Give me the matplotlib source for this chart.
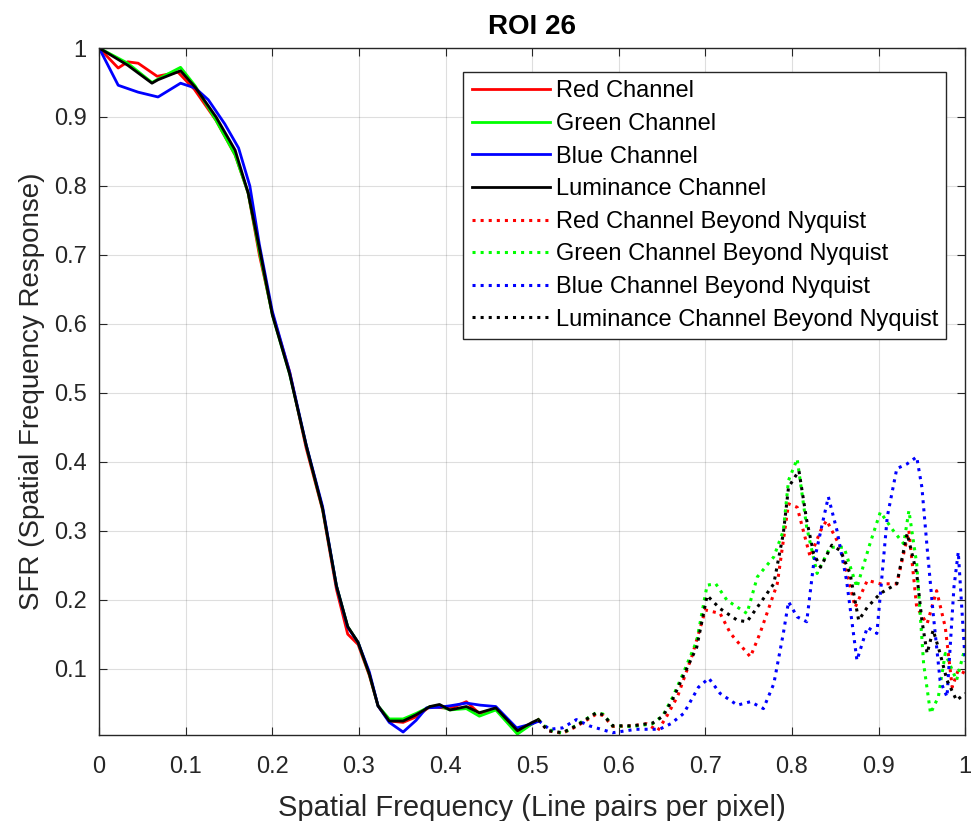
import matplotlib as mpl
mpl.use('Agg')
import matplotlib.pyplot as plt

mpl.rcParams['font.family'] = ['Liberation Sans', 'DejaVu Sans']

# ---- solid curves (up to Nyquist) ----
x_red = [0, 0.022, 0.033, 0.045, 0.067, 0.091, 0.11, 0.135, 0.157, 0.172, 0.185, 0.2, 0.22, 0.239, 0.258,
         0.274, 0.287, 0.299, 0.312, 0.322, 0.335, 0.351, 0.366, 0.382, 0.405, 0.424, 0.439, 0.458, 0.483, 0.5, 0.507]
y_red = [1.0, 0.971, 0.98, 0.978, 0.959, 0.965, 0.94, 0.895, 0.845, 0.79, 0.70, 0.615, 0.53, 0.42, 0.33,
         0.215, 0.15, 0.135, 0.09, 0.046, 0.024, 0.022, 0.03, 0.045, 0.042, 0.052, 0.035, 0.042, 0.008, 0.02, 0.026]

x_lum = [0, 0.033, 0.061, 0.068, 0.094, 0.111, 0.135, 0.157, 0.172, 0.185, 0.2, 0.22, 0.239, 0.258, 0.274,
         0.287, 0.299, 0.312, 0.322, 0.335, 0.351, 0.366, 0.382, 0.393, 0.405, 0.424, 0.439, 0.458, 0.483, 0.5, 0.507]
y_lum = [1.0, 0.975, 0.949, 0.954, 0.967, 0.943, 0.9, 0.852, 0.79, 0.71, 0.613, 0.527, 0.424, 0.332, 0.22,
         0.161, 0.138, 0.092, 0.046, 0.024, 0.024, 0.033, 0.045, 0.048, 0.040, 0.045, 0.036, 0.043, 0.010, 0.022, 0.026]

x_green = x_lum
y_green = [1.0, 0.978, 0.95, 0.955, 0.972, 0.945, 0.895, 0.845, 0.79, 0.705, 0.613, 0.527, 0.424, 0.332, 0.22,
           0.161, 0.138, 0.092, 0.046, 0.027, 0.027, 0.035, 0.045, 0.046, 0.040, 0.042, 0.031, 0.040, 0.005, 0.02, 0.026]

x_blue = [0, 0.022, 0.045, 0.068, 0.094, 0.111, 0.126, 0.145, 0.161, 0.174, 0.185, 0.2, 0.22, 0.239, 0.258,
          0.274, 0.287, 0.299, 0.312, 0.322, 0.335, 0.351, 0.366, 0.378, 0.393, 0.405, 0.424, 0.44, 0.458, 0.482, 0.5, 0.508]
y_blue = [1.0, 0.946, 0.936, 0.929, 0.949, 0.942, 0.925, 0.89, 0.855, 0.80, 0.715, 0.618, 0.53, 0.425, 0.335,
          0.22, 0.16, 0.138, 0.095, 0.046, 0.022, 0.008, 0.025, 0.043, 0.044, 0.046, 0.05, 0.047, 0.045, 0.014, 0.02, 0.024]

# ---- dotted curves (beyond Nyquist) ----
xn_red = [0.507, 0.518, 0.535, 0.551, 0.574, 0.582, 0.593, 0.616, 0.632, 0.645, 0.655, 0.668, 0.685, 0.7, 0.717,
          0.729, 0.752, 0.763, 0.783, 0.796, 0.806, 0.821, 0.833, 0.84, 0.856, 0.873, 0.887, 0.902, 0.921, 0.935,
          0.944, 0.956, 0.967, 0.977, 0.985, 0.992, 1.0]
yn_red = [0.026, 0.01, 0.006, 0.016, 0.034, 0.032, 0.016, 0.017, 0.02, 0.01, 0.03, 0.06, 0.12, 0.185, 0.18,
          0.151, 0.117, 0.151, 0.223, 0.339, 0.334, 0.262, 0.30, 0.315, 0.276, 0.189, 0.228, 0.223, 0.223, 0.30,
          0.189, 0.165, 0.213, 0.16, 0.073, 0.098, 0.093]

xn_green = [0.507, 0.518, 0.535, 0.551, 0.574, 0.582, 0.593, 0.616, 0.639, 0.651, 0.662, 0.674, 0.69, 0.702, 0.712,
            0.725, 0.748, 0.76, 0.779, 0.79, 0.796, 0.806, 0.817, 0.829, 0.844, 0.86, 0.875, 0.89, 0.902, 0.917,
            0.929, 0.935, 0.944, 0.952, 0.96, 0.969, 0.977, 0.99, 1.0]
yn_green = [0.026, 0.012, 0.006, 0.018, 0.036, 0.034, 0.017, 0.016, 0.02, 0.032, 0.058, 0.092, 0.14, 0.221, 0.223,
            0.199, 0.18, 0.233, 0.262, 0.3, 0.373, 0.404, 0.305, 0.238, 0.276, 0.276, 0.218, 0.281, 0.327, 0.3,
            0.281, 0.329, 0.252, 0.107, 0.035, 0.059, 0.122, 0.083, 0.131]

xn_blue = [0.508, 0.52, 0.535, 0.551, 0.566, 0.593, 0.62, 0.647, 0.66, 0.675, 0.692, 0.704, 0.717, 0.737, 0.752,
           0.767, 0.779, 0.79, 0.796, 0.806, 0.817, 0.825, 0.835, 0.842, 0.852, 0.863, 0.875, 0.887, 0.898, 0.91,
           0.921, 0.933, 0.944, 0.95, 0.956, 0.963, 0.971, 0.979, 0.987, 0.992, 1.0]
yn_blue = [0.024, 0.012, 0.014, 0.026, 0.017, 0.007, 0.012, 0.012, 0.02, 0.035, 0.073, 0.086, 0.064, 0.047, 0.052,
           0.042, 0.078, 0.151, 0.197, 0.175, 0.168, 0.252, 0.31, 0.349, 0.30, 0.228, 0.112, 0.16, 0.151, 0.32,
           0.39, 0.397, 0.407, 0.363, 0.276, 0.18, 0.083, 0.059, 0.218, 0.269, 0.11]

xn_lum = [0.507, 0.518, 0.535, 0.551, 0.574, 0.582, 0.593, 0.616, 0.639, 0.651, 0.662, 0.674, 0.69, 0.702, 0.717,
          0.737, 0.748, 0.76, 0.779, 0.79, 0.796, 0.808, 0.817, 0.825, 0.833, 0.846, 0.856, 0.867, 0.877, 0.887,
          0.902, 0.921, 0.933, 0.944, 0.95, 0.956, 0.963, 0.971, 0.979, 0.99, 1.0]
yn_lum = [0.026, 0.01, 0.007, 0.017, 0.036, 0.033, 0.017, 0.017, 0.021, 0.031, 0.055, 0.088, 0.131, 0.206, 0.187,
          0.17, 0.168, 0.189, 0.223, 0.296, 0.363, 0.387, 0.315, 0.267, 0.247, 0.279, 0.271, 0.238, 0.17, 0.189,
          0.209, 0.223, 0.296, 0.238, 0.17, 0.122, 0.156, 0.122, 0.083, 0.054, 0.064]

labels = ['Red Channel', 'Green Channel', 'Blue Channel', 'Luminance Channel',
          'Red Channel Beyond Nyquist', 'Green Channel Beyond Nyquist',
          'Blue Channel Beyond Nyquist', 'Luminance Channel Beyond Nyquist']
colors = ['#ff0000', '#00ff00', '#0000ff', '#000000']

fig = plt.figure(figsize=(9.72, 8.21), dpi=100)
ax = fig.add_axes([0.102, 0.105, 0.891, 0.8365])

solid = [(x_red, y_red), (x_green, y_green), (x_blue, y_blue), (x_lum, y_lum)]
dotted = [(xn_red, yn_red), (xn_green, yn_green), (xn_blue, yn_blue), (xn_lum, yn_lum)]
for (x, y), c, lab in zip(solid, colors, labels[:4]):
    ax.plot(x, y, '-', color=c, lw=2.0, label=lab)
for (x, y), c, lab in zip(dotted, colors, labels[4:]):
    ax.plot(x, y, ':', color=c, lw=2.2, label=lab)

ax.set_xlim(0, 1)
ax.set_ylim(0.004, 1)
ax.set_xticks([i / 10 for i in range(11)])
ax.set_xticklabels(['0', '0.1', '0.2', '0.3', '0.4', '0.5', '0.6', '0.7', '0.8', '0.9', '1'])
ax.set_yticks([i / 10 for i in range(1, 11)])
ax.set_yticklabels(['0.1', '0.2', '0.3', '0.4', '0.5', '0.6', '0.7', '0.8', '0.9', '1'])
ax.grid(True, color='#262626', alpha=0.15, lw=0.8)
ax.tick_params(direction='in', top=True, right=True, length=6, labelsize=17, colors='#262626')
ax.tick_params(axis='x', pad=15)
ax.tick_params(axis='y', pad=9)
for s in ax.spines.values():
    s.set_color('#262626'); s.set_linewidth(1.0)

ax.set_title('ROI 26', fontsize=20, fontweight='bold', pad=10)
ax.set_xlabel('Spatial Frequency (Line pairs per pixel)', fontsize=21, color='#262626', labelpad=12)
ax.set_ylabel('SFR (Spatial Frequency Response)', fontsize=20, color='#262626', labelpad=6)

leg = ax.legend(loc='upper right', bbox_to_anchor=(0.978, 0.965), fontsize=17, handlelength=3.3,
                handletextpad=0.25, fancybox=False, framealpha=1, edgecolor='#262626',
                borderpad=0.35, borderaxespad=0, labelspacing=0.45)
leg.get_frame().set_linewidth(1.0)

plt.savefig('out.png', dpi=100)
plt.close()
